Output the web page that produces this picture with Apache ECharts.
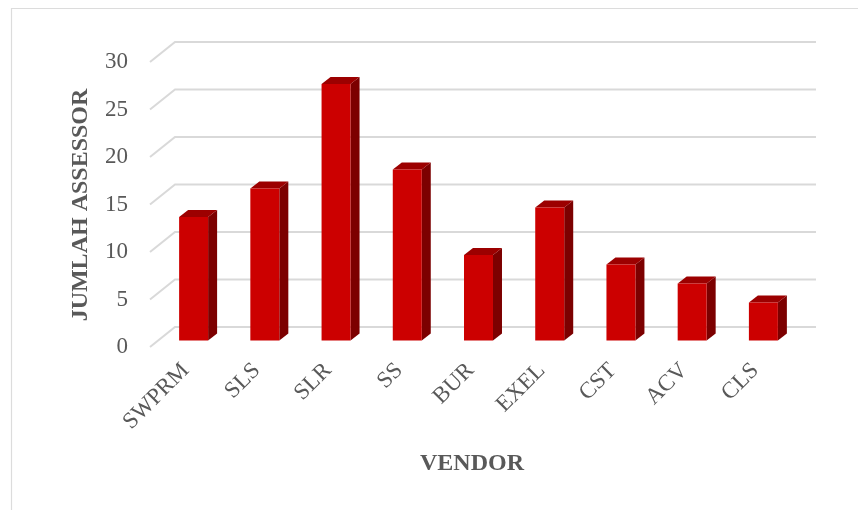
<!DOCTYPE html>
<html>
<head>
<meta charset="utf-8">
<script src="https://cdn.jsdelivr.net/npm/echarts@6/dist/echarts.min.js"></script>
<style>
html,body{margin:0;padding:0;background:#fff;}
#chart{width:858px;height:510px;}
</style>
</head>
<body>
<div id="chart"></div>
<script>
const categories = ['SWPRM', 'SLS', 'SLR', 'SS', 'BUR', 'EXEL', 'CST', 'ACV', 'CLS'];
const assessors = [13, 16, 27, 18, 9, 14, 8, 6, 4];
const yTicks = [0, 5, 10, 15, 20, 25, 30];
const yAxisTitle = 'JUMLAH ASSESSOR';
const xAxisTitle = 'VENDOR';

const FONT = '"Liberation Serif", "DejaVu Serif", serif';
const TEXT = '#595959';
const GRID = '#d9d9d9';
// 3D depth vector (screen px) from front plane to back wall
const DX = 25, DY = -20;
const D1 = 0.32, D2 = 0.68;

const chart = echarts.init(document.getElementById('chart'), null, {renderer: 'canvas'});

const option = {
  backgroundColor: '#fff',
  animation: false,
  grid: {left: 150, right: 67, top: 62, bottom: 163, containLabel: false},
  xAxis: {
    type: 'category',
    data: categories,
    axisLine: {show: false},
    axisTick: {show: false},
    axisLabel: {
      rotate: 45, margin: 20, color: TEXT, fontFamily: FONT, fontSize: 23, interval: 0
    }
  },
  yAxis: {
    type: 'value', min: 0, max: 30, interval: 5,
    axisLine: {show: false}, axisTick: {show: false}, splitLine: {show: false},
    axisLabel: {margin: 22, color: TEXT, fontFamily: FONT, fontSize: 23}
  },
  graphic: [
    {type: 'rect', left: 9, top: 6, z: -10, shape: {width: 900, height: 600},
     style: {fill: 'none', stroke: '#dcdcdc', lineWidth: 1.2}},
    {type: 'text', x: 81, y: 205, rotation: Math.PI / 2, z: 10,
     style: {text: yAxisTitle, fill: TEXT, font: 'bold 24px ' + FONT, align: 'center', verticalAlign: 'middle'}},
    {type: 'text', x: 472, y: 464, z: 10,
     style: {text: xAxisTitle, fill: TEXT, font: 'bold 24px ' + FONT, align: 'center', verticalAlign: 'middle'}}
  ],
  series: [
    {
      type: 'custom',
      z: 1,
      silent: true,
      data: yTicks.map(v => [0, v]),
      renderItem: function (params, api) {
        const cs = params.coordSys;
        const y = api.coord([0, api.value(1)])[1];
        const x0 = cs.x, x1 = cs.x + cs.width;
        return {
          type: 'polyline',
          shape: {points: [[x0, y], [x0 + DX, y + DY], [x1 + DX, y + DY]]},
          style: {stroke: GRID, lineWidth: 2, fill: null}
        };
      }
    },
    {
      type: 'custom',
      z: 5,
      data: assessors.map((v, i) => [i, v]),
      renderItem: function (params, api) {
        const i = api.value(0), v = api.value(1);
        const top = api.coord([i, v]);
        const base = api.coord([i, 0]);
        const band = api.size([1, 0])[0];
        const bw = band * 0.407;
        const xl = top[0] - bw / 2 + DX * D1;
        const xr = xl + bw;
        const yt = top[1] + DY * D1;
        const yb = base[1] + DY * D1;
        const ddx = DX * (D2 - D1), ddy = DY * (D2 - D1);
        return {
          type: 'group',
          children: [
            {type: 'polygon', shape: {points: [[xr, yt], [xr + ddx, yt + ddy], [xr + ddx, yb + ddy], [xr, yb]]},
             style: {fill: '#7c0000'}},
            {type: 'polygon', shape: {points: [[xl, yt], [xr, yt], [xr + ddx, yt + ddy], [xl + ddx, yt + ddy]]},
             style: {fill: '#9c0000'}},
            {type: 'rect', shape: {x: xl, y: yt, width: bw, height: yb - yt},
             style: {fill: '#cc0000'}}
          ]
        };
      }
    }
  ]
};
chart.setOption(option);
</script>
</body>
</html>
